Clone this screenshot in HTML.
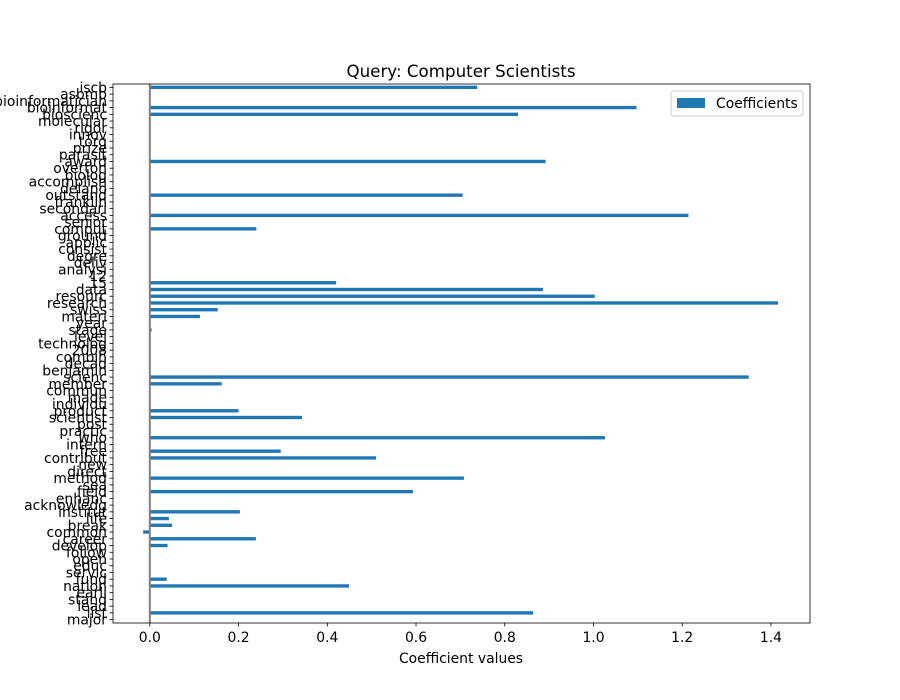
<!DOCTYPE html>
<html><head><meta charset="utf-8">
<style>
html,body{margin:0;padding:0;background:#fff;}
svg{display:block;font-family:"DejaVu Sans","Liberation Sans",sans-serif;}
</style></head>
<body>
<svg id="chart" width="900" height="700" viewBox="0 0 900 700">
<rect x="0" y="0" width="900" height="700" fill="#fff"/>
<text x="461" y="77" text-anchor="middle" font-size="16.7" fill="#000">Query: Computer Scientists</text>
<g id="bars"></g>
<g id="yaxis"></g>
<g id="xaxis"></g>
<text x="461" y="663" text-anchor="middle" font-size="13.9" fill="#000">Coefficient values</text>
<g>
<rect x="671" y="91" width="132" height="25" rx="3" fill="#fff" stroke="#ccc" stroke-width="1"/>
<rect x="677" y="98" width="28" height="10" fill="#1f77b4"/>
<text x="716" y="108" font-size="13.9" fill="#000">Coefficients</text>
</g>
</svg>
<script>
const categories = ["major","list","lead","stand","earli","nation","fund","servic","educ","open","follow","develop","career","common","break","life","institut","acknowledg","enhanc","field","sea","method","direct","new","contribut","free","intern","who","practic","post","scientist","product","individu","made","commun","member","scienc","benjamin","decad","combin","2008","technolog","level","stage","year","materi","swiss","research","resourc","data","15","12","analysi","deliv","degre","consist","applic","ground","comput","senior","access","secondari","franklin","outstand","delano","accomplish","biolog","overton","award","parasit","prize","torg","innov","rigor","molecular","bioscienc","bioinformat","bioinformatician","asbmb","iscb"];
const values = [0,0.864,0,0,0,0.449,0.038,0,0,0,0,0.04,0.239,-0.015,0.05,0.043,0.203,0,0,0.593,0,0.708,0,0,0.51,0.295,0,1.026,0,0,0.343,0.2,0,0,0,0.162,1.35,0,0,0,0,0,0,0.004,0,0.113,0.153,1.416,1.003,0.886,0.42,0,0,0,0,0,0,0,0.24,0,1.214,0,0,0.705,0,0,0,0,0.892,0,0,0,0,0,0,0.83,1.097,0,0,0.738];
const xTicks = [0,0.2,0.4,0.6,0.8,1.0,1.2,1.4];
const xTickLabels = ["0.0","0.2","0.4","0.6","0.8","1.0","1.2","1.4"];

const NS="http://www.w3.org/2000/svg";
const L=113,R=810,T=84,B=623;
const xmin=-0.083,xmax=1.488;
function xs(v){return L+(v-xmin)/(xmax-xmin)*(R-L);}
const step=(B-T)/categories.length;
function ys(i){return B-(i+0.5)*step;}
function mk(tag,attrs,parent){const e=document.createElementNS(NS,tag);for(const k in attrs)e.setAttribute(k,attrs[k]);parent.appendChild(e);return e;}
const bars=document.getElementById('bars'),ya=document.getElementById('yaxis'),xa=document.getElementById('xaxis'),svg=document.getElementById('chart');
const bh=step*0.5;
values.forEach((v,i)=>{
  const x0=xs(0),x1=xs(v);
  const r=mk('rect',{x:Math.min(x0,x1),y:ys(i)-bh/2,width:Math.abs(x1-x0),height:bh,fill:'#1f77b4'},bars);
  
  
});
categories.forEach((c,i)=>{
  const y=ys(i);
  const t=mk('line',{x1:L-3.5,x2:L,y1:y,y2:y,stroke:'#000','stroke-width':0.8},ya);
  
  
  const tx=mk('text',{x:L-6,y:y+5,'text-anchor':'end','font-size':13.9,fill:'#000'},ya);
  tx.textContent=c;
  
  
});
xTicks.forEach((v,i)=>{
  const x=xs(v);
  const t=mk('line',{x1:x,x2:x,y1:B,y2:B+3.5,stroke:'#000','stroke-width':0.8},xa);
  
  
  const tx=mk('text',{x:x,y:B+19,'text-anchor':'middle','font-size':13.9,fill:'#000'},xa);
  tx.textContent=xTickLabels[i];
  
  
});
const zl=mk('line',{x1:xs(0),x2:xs(0),y1:T,y2:B,stroke:'#808080','stroke-width':2},svg);


const fr=mk('rect',{x:L,y:T,width:R-L,height:B-T,fill:'none',stroke:'#000','stroke-width':0.8},svg);


</script>
</body></html>
